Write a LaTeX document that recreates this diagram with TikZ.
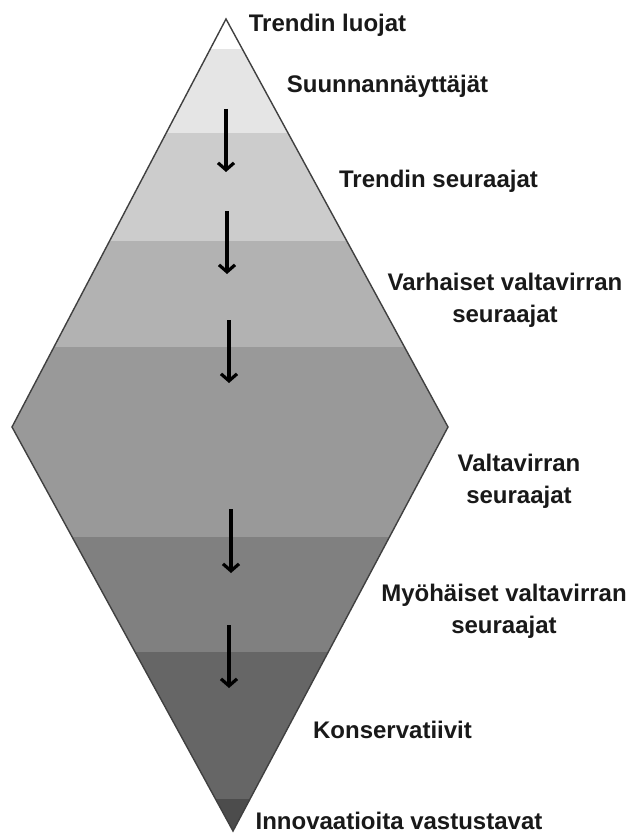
\documentclass[tikz,border=0pt]{standalone}
\usepackage{fontspec}
\setmainfont{Liberation Sans}
\usetikzlibrary{arrows.meta}
\tikzset{
  lbl/.style={font=\fontsize{24}{32}\selectfont\bfseries, text=black!90, inner sep=0pt, anchor=base, align=center},
  flow/.style={line width=3.4pt, -{Straight Barb[length=7pt,width=16pt,line width=3.2pt]}},
  outline/.style={draw=black!75, line width=1.4pt, line join=miter}
}
\begin{document}
\begin{tikzpicture}[x=1pt,y=-1pt]
\useasboundingbox (0,0) rectangle (627,834);
\coordinate (T) at (226,19);
\coordinate (L) at (12,427);
\coordinate (B) at (233,831);
\coordinate (R) at (448,427);
\begin{scope}
\clip (T) -- (R) -- (B) -- (L) -- cycle;
\fill[white] (0,0) rectangle (627,49);
\fill[black!10] (0,49) rectangle (627,133);
\fill[black!20] (0,133) rectangle (627,241);
\fill[black!30] (0,241) rectangle (627,347);
\fill[black!40] (0,347) rectangle (627,537);
\fill[black!50] (0,537) rectangle (627,652);
\fill[black!60] (0,652) rectangle (627,799);
\fill[black!70] (0,799) rectangle (627,840);
\end{scope}
\draw[outline] (T) -- (R) -- (B) -- (L) -- cycle;
% arrows
\coordinate (a1s) at (226,109); \coordinate (a1e) at (226,172);
\coordinate (a2s) at (227,211); \coordinate (a2e) at (227,274);
\coordinate (a3s) at (229,320); \coordinate (a3e) at (229,383);
\coordinate (a4s) at (231,509); \coordinate (a4e) at (231,573);
\coordinate (a5s) at (229,625); \coordinate (a5e) at (229,688);
\draw[flow] (a1s) -- (a1e);
\draw[flow] (a2s) -- (a2e);
\draw[flow] (a3s) -- (a3e);
\draw[flow] (a4s) -- (a4e);
\draw[flow] (a5s) -- (a5e);
% labels
\node[lbl] (t1) at (327.5,32) {Trendin luojat};
\node[lbl] (t2) at (387.5,93) {Suunnannäyttäjät};
\node[lbl] (t3) at (438.5,188) {Trendin seuraajat};
\node[lbl] (t4) at (505,322) {Varhaiset valtavirran\\seuraajat};
\node[lbl] (t5) at (519,503) {Valtavirran\\seuraajat};
\node[lbl] (t6) at (504,633) {Myöhäiset valtavirran\\seuraajat};
\node[lbl] (t7) at (392.5,738) {Konservatiivit};
\node[lbl] (t8) at (399,829) {Innovaatioita vastustavat};
\end{tikzpicture}
\end{document}
